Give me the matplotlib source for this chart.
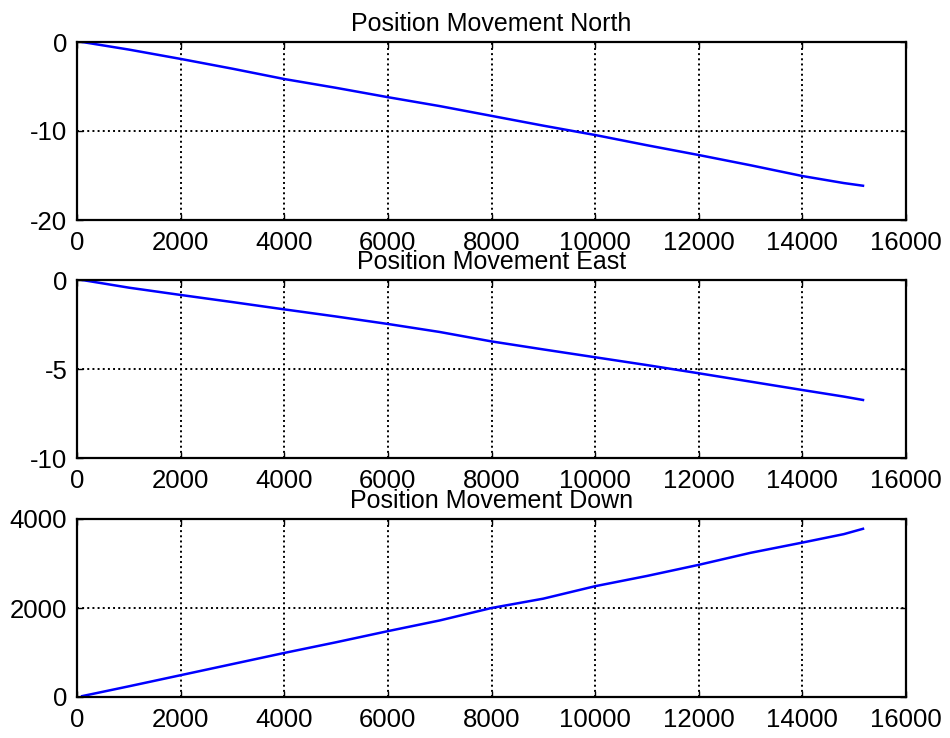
import numpy as np
import matplotlib
matplotlib.use("Agg")
import matplotlib.pyplot as plt

plt.rcParams['font.family'] = ['Liberation Sans', 'DejaVu Sans']
plt.rcParams['axes.unicode_minus'] = False

# samples
x = [100, 1000, 2000, 3000, 4000, 5000, 6000, 7000, 8000, 9000,
     10000, 11000, 12000, 13000, 14000, 14800, 15170]
north = [0, -0.85, -1.9, -3.0, -4.16, -5.15, -6.2, -7.2, -8.3, -9.4,
         -10.45, -11.6, -12.7, -13.85, -15.06, -15.85, -16.15]
east = [0, -0.43, -0.84, -1.24, -1.65, -2.05, -2.47, -2.92, -3.45, -3.9,
        -4.34, -4.78, -5.24, -5.71, -6.18, -6.55, -6.74]
down = [20, 240, 490, 740, 990, 1230, 1480, 1720, 2000, 2210,
        2490, 2720, 2970, 3240, 3470, 3660, 3780]

titles = ['Position Movement North', 'Position Movement East', 'Position Movement Down']
series = [north, east, down]
ylims = [(-20, 0), (-10, 0), (0, 4000)]
yticks = [[-20, -10, 0], [-10, -5, 0], [0, 2000, 4000]]
xticks = [0, 2000, 4000, 6000, 8000, 10000, 12000, 14000, 16000]

fig = plt.figure(figsize=(9.5, 7.38), dpi=100)
left, width = 77 / 950, (906 - 77) / 950
tops = [42, 280, 519]
h = 178

for i in range(3):
  ax = fig.add_axes([left, 1 - (tops[i] + h) / 738, width, h / 738])
  ax.plot(x, series[i], color='#0000ff', lw=1.8)
  ax.set_xlim(0, 16000)
  ax.set_ylim(*ylims[i])
  ax.set_xticks(xticks)
  ax.set_yticks(yticks[i])
  ax.grid(True, color='black', linestyle=':', linewidth=1.4)
  ax.tick_params(direction='in', length=4, width=1, top=True, right=True,
                 labelsize=18.5)
  ax.tick_params(axis='x', pad=8)
  ax.tick_params(axis='y', pad=7)
  for s in ax.spines.values():
    s.set_linewidth(1.6)
  ax.set_title(titles[i], fontsize=18, pad=8)

fig.savefig('out.png', dpi=100)
